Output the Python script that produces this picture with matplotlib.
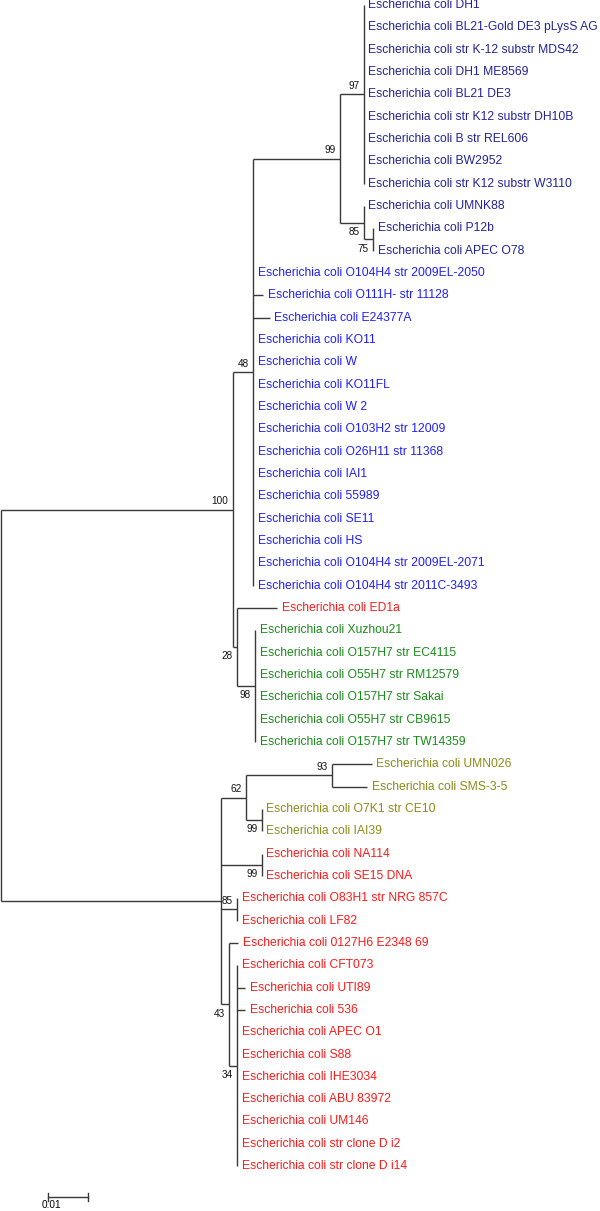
"""E. coli phylogenetic tree (MEGA style), redrawn with matplotlib."""
import re

import matplotlib

matplotlib.use("Agg")
import matplotlib.pyplot as plt  # noqa: E402

# --- Data ---
# leaf names in top-to-bottom order; the tree refers to them by index
STRAINS = [
    "DH1", "BL21-Gold DE3 pLysS AG", "str K-12 substr MDS42", "DH1 ME8569",
    "BL21 DE3", "str K12 substr DH10B", "B str REL606", "BW2952",
    "str K12 substr W3110", "UMNK88", "P12b", "APEC O78",
    "O104H4 str 2009EL-2050", "O111H- str 11128", "E24377A", "KO11", "W",
    "KO11FL", "W 2", "O103H2 str 12009", "O26H11 str 11368", "IAI1", "55989",
    "SE11", "HS", "O104H4 str 2009EL-2071", "O104H4 str 2011C-3493",
    "ED1a",
    "Xuzhou21", "O157H7 str EC4115", "O55H7 str RM12579", "O157H7 str Sakai",
    "O55H7 str CB9615", "O157H7 str TW14359",
    "UMN026", "SMS-3-5", "O7K1 str CE10", "IAI39",
    "NA114", "SE15 DNA", "O83H1 str NRG 857C", "LF82", "0127H6 E2348 69",
    "CFT073", "UTI89", "536", "APEC O1", "S88", "IHE3034", "ABU 83972",
    "UM146", "str clone D i2", "str clone D i14",
]
GROUPS = (["navy"] * 12 + ["blue"] * 15 + ["red"] + ["green"] * 6
          + ["olive"] * 4 + ["red"] * 15)

# topology with branch lengths (substitutions/site) and bootstrap values
NEWICK = (
    "(((((0:0,1:0,2:0,3:0,4:0,5:0,6:0,7:0,8:0)97:0.006,"
    "(9:0,(10:0,11:0)75:0.00225)85:0.006)99:0.02175,"
    "12:0,13:0.0025,14:0.00425,15:0,16:0,17:0,18:0,19:0,20:0,21:0,22:0,"
    "23:0,24:0,25:0,26:0)48:0.005,"
    "(27:0.01,(28:0,29:0,30:0,31:0,32:0,33:0)98:0.0045)28:0.001)100:0.058,"
    "(((34:0.01,35:0.00875)93:0.0215,(36:0,37:0)99:0.004)62:0.00625,"
    "(38:0,39:0)99:0.01025,(40:0,41:0)85:0.004,"
    "(42:0.00225,(43:0,44:0.002,45:0.002,46:0,47:0,48:0,49:0,50:0,51:0,"
    "52:0)34:0.002)43:0.002):0.055);"
)
# bootstrap label placement, preorder over labelled nodes
BOOT_SIDE = ["above", "above", "above", "above", "below", "below", "below",
             "below", "above", "above", "below", "below", "above", "below",
             "below"]
SCALE = 0.01

COLORS = {"navy": "#23239b", "blue": "#2020ff", "red": "#ff1a1a",
          "green": "#1a8c1a", "olive": "#8c8c1a"}
LINE = "#3a3a3a"
FONT = ["Liberation Sans", "DejaVu Sans"]


def parse(s):
    tokens = re.findall(r"[(),;]|[^(),;]+", s)
    pos = 0

    def node():
        nonlocal pos
        n = {"children": [], "name": "", "len": 0.0}
        if tokens[pos] == "(":
            pos += 1
            while True:
                n["children"].append(node())
                if tokens[pos] == ",":
                    pos += 1
                    continue
                pos += 1  # ")"
                break
        if pos < len(tokens) and tokens[pos] not in "(),;":
            lab = tokens[pos]
            pos += 1
            name, _, length = lab.partition(":")
            n["name"] = name
            n["len"] = float(length) if length else 0.0
        return n

    return node()


def layout(n, x0):
    n["x"] = x0 + n["len"]
    if not n["children"]:
        n["y"] = int(n["name"])
        return
    for c in n["children"]:
        layout(c, n["x"])
    n["y"] = (n["children"][0]["y"] + n["children"][-1]["y"]) / 2


tree = parse(NEWICK)
tree["len"] = 0.0
layout(tree, 0.0)

# pixel geometry: 40 px per 0.01, 22.33 px per row
PX = 0.01 / 40
ROW = 22.33
fig = plt.figure(figsize=(6.0, 12.11), dpi=100)
ax = fig.add_axes([0, 0, 1, 1])
ax.set_xlim(-1 * PX, 599 * PX)
ax.set_ylim((1211 - 5) / ROW, -5 / ROW)
ax.axis("off")

boots = []


def draw(n):
    if n["children"]:
        ys = [c["y"] for c in n["children"]]
        ax.plot([n["x"], n["x"]], [min(ys), max(ys)], color=LINE, lw=1.0,
                solid_capstyle="butt")
        for c in n["children"]:
            ax.plot([n["x"], c["x"]], [c["y"], c["y"]], color=LINE, lw=1.0,
                    solid_capstyle="butt")
            if c["children"] and c["name"]:
                boots.append(c)
            draw(c)
    else:
        i = int(n["name"])
        ax.text(n["x"] + 4.5 * PX, n["y"], "Escherichia coli " + STRAINS[i],
                color=COLORS[GROUPS[i]], fontsize=8.75, va="center",
                ha="left", family=FONT)


draw(tree)

for n, side in zip(boots, BOOT_SIDE):
    dy = -0.38 if side == "above" else 0.42
    ax.text(n["x"] - 4.5 * PX, n["y"] + dy, n["name"], fontsize=7.2,
            ha="right", va="center", color="#111111", family=FONT)

# scale bar
sy = (1197 - 5) / ROW
sx = 47 * PX
ax.plot([sx, sx + SCALE], [sy, sy], color=LINE, lw=1.0)
for xe in (sx, sx + SCALE):
    ax.plot([xe, xe], [sy - 0.16, sy + 0.16], color=LINE, lw=1.0)
ax.text(41 * PX, (1204.5 - 5) / ROW, f"{SCALE}", fontsize=7.2, ha="left",
        va="center", family=FONT)

fig.savefig("out.png", dpi=100)
